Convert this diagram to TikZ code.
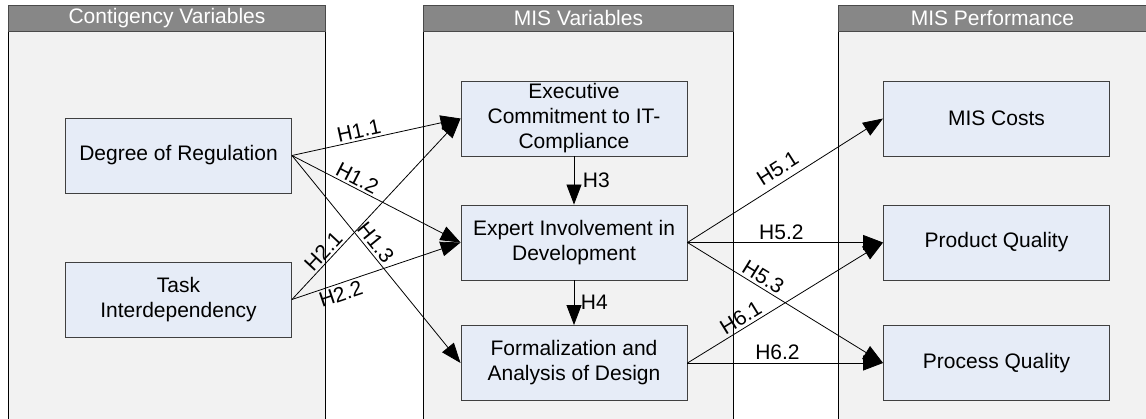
\documentclass[tikz,border=0pt]{standalone}
\usepackage{fontspec}
\setmainfont{Liberation Sans}
\usetikzlibrary{arrows.meta}
\definecolor{panelfill}{HTML}{F2F2F2}
\definecolor{headfill}{HTML}{878787}
\definecolor{headline}{HTML}{4A4A4A}
\definecolor{boxfill}{HTML}{E6ECF7}
\definecolor{boxline}{HTML}{404040}
\tikzset{
  panel/.style={draw=black, line width=0.9pt, fill=panelfill},
  header/.style={draw=headline, line width=0.9pt, fill=headfill, text=white,
    minimum height=26pt, inner sep=0pt, anchor=north west},
  varbox/.style={draw=boxline, line width=0.9pt, fill=boxfill, minimum width=226pt,
    minimum height=75pt, align=center, inner sep=0pt},
  arr/.style={line width=0.8pt, -{Triangle[length=20pt, width=15pt]}},
  lab/.style={inner sep=2.5pt, font=\fontsize{21}{24}\selectfont},
}
\begin{document}
\begin{tikzpicture}[x=1pt, y=-1pt, font=\fontsize{21}{25}\selectfont]
\useasboundingbox (0,0) rectangle (1146,418);
\clip (0,0) rectangle (1146,418);

% column panels
\path[panel] (8,5) rectangle (325,440);
\path[panel] (423,5) rectangle (733,440);
\path[panel] (838,5) rectangle (1160,440);
\node[header, minimum width=317pt] (h1) at (8,5) {Contigency Variables};
\node[header, minimum width=310pt] (h2) at (423,5) {MIS Variables};
\node[header, minimum width=322pt] (h3) at (838,5) {\hspace*{-14pt}MIS Performance};

% variables
\node[varbox] (deg)  at (178.5,155.5) {Degree of Regulation};
\node[varbox] (task) at (178.5,299.5) {Task\\Interdependency};
\node[varbox] (exec) at (574,118.5) {Executive\\Commitment to IT-\\Compliance};
\node[varbox] (exp)  at (574,242.5) {Expert Involvement in\\Development};
\node[varbox] (form) at (574,363) {Formalization and\\Analysis of Design};
\node[varbox] (cost) at (996.5,118.5) {MIS Costs};
\node[varbox] (prod) at (996.5,242.5) {Product Quality};
\node[varbox] (proc) at (996.5,363) {Process Quality};

% hypotheses
\draw[arr] (deg.east) -- node[lab, sloped, above, pos=0.41] {H1.1} (exec.west);
\draw[arr] (deg.east) -- node[lab, sloped, above, pos=0.36] {H1.2} (exp.west);
\draw[arr] (deg.east) -- node[lab, sloped, above, pos=0.45] {H1.3} (form.west);
\draw[arr] (task.east) -- node[lab, sloped, above, pos=0.23] {H2.1} (exec.west);
\draw[arr] (task.east) -- node[lab, sloped, below, pos=0.27] {H2.2} (exp.west);
\draw[arr] (exec.south) -- node[lab, right=6pt] {H3} (exp.north);
\draw[arr] (exp.south) -- node[lab, right=4pt] {H4} (form.north);
\draw[arr] (exp.east) -- node[lab, sloped, above=4pt, pos=0.50] {H5.1} (cost.west);
\draw[arr] (exp.east) -- node[lab, above, pos=0.48] {H5.2} (prod.west);
\draw[arr] (exp.east) -- node[lab, sloped, above, pos=0.36] {H5.3} (proc.west);
\draw[arr] (form.east) -- node[lab, sloped, above, pos=0.30] {H6.1} (prod.west);
\draw[arr] (form.east) -- node[lab, above, pos=0.46] {H6.2} (proc.west);
\end{tikzpicture}
\end{document}
